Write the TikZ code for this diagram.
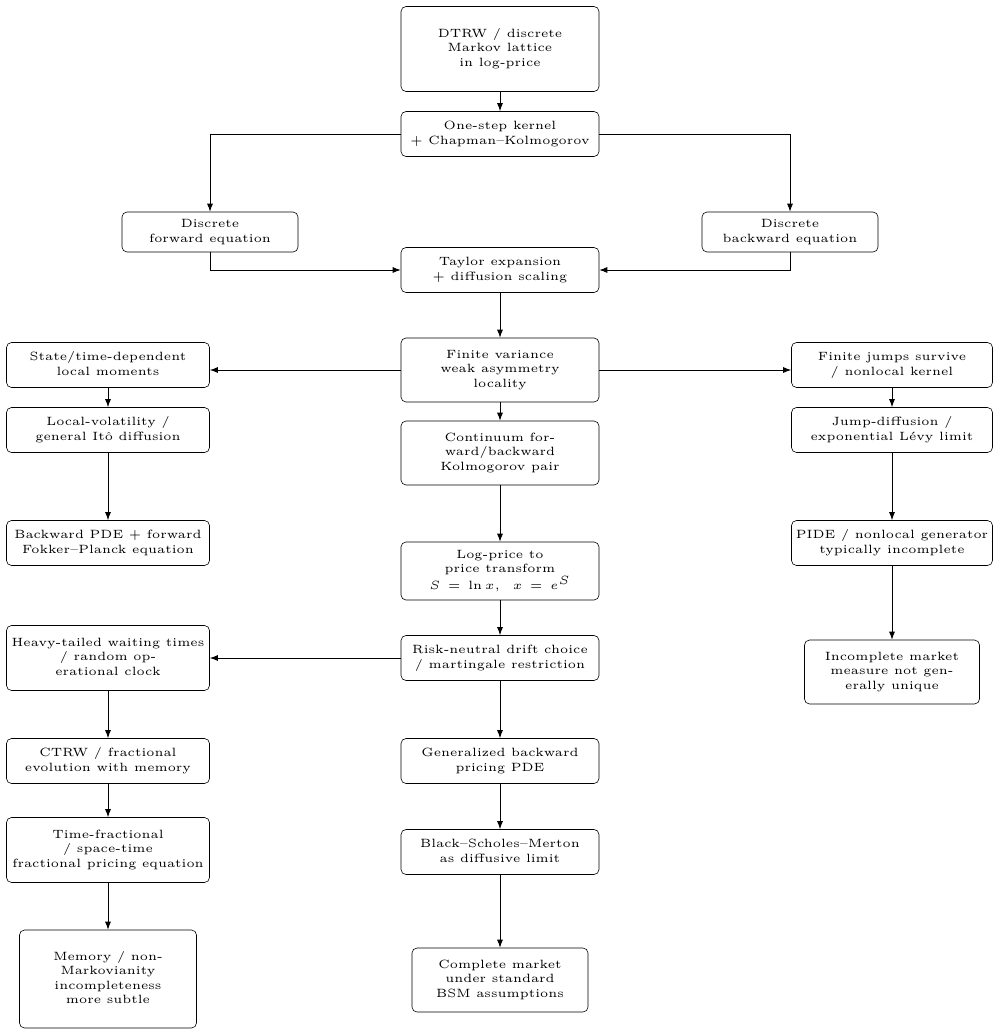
\documentclass[tikz,border=0pt]{standalone}
\usetikzlibrary{arrows.meta}
\newcommand{\TT}[1]{\scalebox{2.4}{\tiny\begin{tabular}{@{}c@{}}#1\end{tabular}}}
\begin{document}
\begin{tikzpicture}[x=1pt,y=-1pt,
  b/.style={draw,rounded corners=5pt,align=center,inner sep=2pt,line width=0.6pt},
  w/.style={b,minimum width=198pt},
  e/.style={-{Latex[length=8pt,width=6pt]},line width=0.9pt}]
\useasboundingbox (0,0) rectangle (999,1033);
\node[w,minimum height=85pt] (n1) at (500,49) {\TT{DTRW / discrete\\Markov lattice\\in log-price}};
\node[w,minimum height=45pt] (n2) at (500,134) {\TT{One-step kernel\\+ Chapman--Kolmogorov}};
\node[b,minimum width=176pt,minimum height=40pt] (n3) at (210,232) {\TT{Discrete\\forward equation}};
\node[b,minimum width=176pt,minimum height=40pt] (n4) at (790,232) {\TT{Discrete\\backward equation}};
\node[w,minimum height=45pt] (n5) at (500,270) {\TT{Taylor expansion\\+ diffusion scaling}};
\node[w,minimum height=64pt] (n6) at (500,370) {\TT{Finite variance\\weak asymmetry\\locality}};
\node[b,minimum width=203pt,minimum height=45pt] (n7) at (108,365) {\TT{State/time-dependent\\local moments}};
\node[b,minimum width=201pt,minimum height=45pt] (n8) at (892,365) {\TT{Finite jumps survive\\/ nonlocal kernel}};
\node[b,minimum width=203pt,minimum height=45pt] (n9) at (108,430) {\TT{Local-volatility /\\general It\^o diffusion}};
\node[w,minimum height=64pt] (n10) at (500,453) {\TT{Continuum for-\\ward/backward\\Kolmogorov pair}};
\node[b,minimum width=201pt,minimum height=45pt] (n11) at (892,430) {\TT{Jump-diffusion /\\exponential L\'evy limit}};
\node[b,minimum width=203pt,minimum height=45pt] (n12) at (108,543) {\TT{Backward PDE + forward\\Fokker--Planck equation}};
\node[w,minimum height=58pt] (n13) at (500,571) {\TT{Log-price to\\price transform\\$S\,=\,\ln x,\;\; x\,=\,e^{S}$}};
\node[b,minimum width=201pt,minimum height=45pt] (n14) at (892,543) {\TT{PIDE / nonlocal generator\\typically incomplete}};
\node[b,minimum width=203pt,minimum height=65pt] (n15) at (108,658) {\TT{Heavy-tailed waiting times\\/ random op-\\erational clock}};
\node[w,minimum height=45pt] (n16) at (500,658) {\TT{Risk-neutral drift choice\\/ martingale restriction}};
\node[b,minimum width=175pt,minimum height=64pt] (n17) at (892,672) {\TT{Incomplete market\\measure not gen-\\erally unique}};
\node[b,minimum width=203pt,minimum height=45pt] (n18) at (108,761) {\TT{CTRW / fractional\\evolution with memory}};
\node[w,minimum height=45pt] (n19) at (500,761) {\TT{Generalized backward\\pricing PDE}};
\node[b,minimum width=203pt,minimum height=65pt] (n20) at (108,850) {\TT{Time-fractional\\/ space-time\\fractional pricing equation}};
\node[w,minimum height=45pt] (n21) at (500,852) {\TT{Black--Scholes--Merton\\as diffusive limit}};
\node[b,minimum width=177pt,minimum height=98pt] (n22) at (108,979) {\TT{Memory / non-\\Markovianity\\incompleteness\\more subtle}};
\node[b,minimum width=176pt,minimum height=64pt] (n23) at (500,980) {\TT{Complete market\\under standard\\BSM assumptions}};
\draw[e] (n1) -- (n2);
\draw[e] (n2.west) -| (n3.north);
\draw[e] (n2.east) -| (n4.north);
\draw[e] (n3.south) |- (n5.west);
\draw[e] (n4.south) |- (n5.east);
\draw[e] (n5) -- (n6);
\draw[e] (n6.west) -- (n6.west -| n7.east);
\draw[e] (n6.east) -- (n6.east -| n8.west);
\draw[e] (n7) -- (n9);
\draw[e] (n9) -- (n12);
\draw[e] (n6) -- (n10);
\draw[e] (n10) -- (n13);
\draw[e] (n13) -- (n16);
\draw[e] (n16) -- (n15);
\draw[e] (n15) -- (n18);
\draw[e] (n18) -- (n20);
\draw[e] (n20) -- (n22);
\draw[e] (n16) -- (n19);
\draw[e] (n19) -- (n21);
\draw[e] (n21) -- (n23);
\draw[e] (n8) -- (n11);
\draw[e] (n11) -- (n14);
\draw[e] (n14) -- (n17);
\end{tikzpicture}
\end{document}
